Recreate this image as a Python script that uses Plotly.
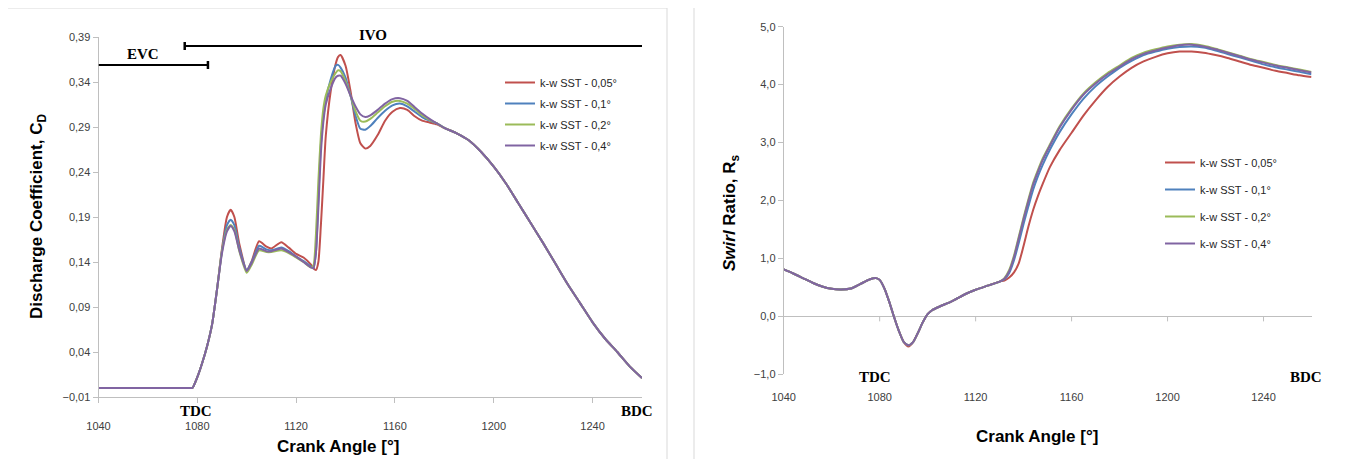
import plotly.graph_objects as go

# ---------------- data ----------------
SERIES_NAMES = ["k-w SST - 0,05°", "k-w SST - 0,1°", "k-w SST - 0,2°", "k-w SST - 0,4°"]
COLORS = ["#C0504D", "#4F81BD", "#9BBB59", "#8064A2"]
X_TICKS = [1040, 1080, 1120, 1160, 1200, 1240]

# Discharge coefficient (left chart)
CD_ANGLE = [1040, 1060, 1077, 1078, 1080, 1082, 1084, 1086, 1088, 1090, 1092, 1093.5,
            1095, 1097, 1100, 1102, 1105, 1108, 1110, 1114, 1117, 1120,
            1123, 1126, 1127, 1128, 1129, 1130, 1131, 1132, 1134, 1136,
            1137, 1138, 1140, 1142, 1144, 1146, 1148, 1150, 1153, 1156,
            1159, 1162, 1165, 1168, 1171, 1174, 1177, 1180, 1185, 1190,
            1195, 1200, 1205, 1210, 1215, 1220, 1225, 1230, 1235, 1240,
            1245, 1250, 1255, 1260]
CD_HEAD = [0.0, 0.0, 0.0, 0.0, 0.012, 0.028, 0.047, 0.071, 0.110]
CD_TAIL = [0.289, 0.283, 0.275, 0.262, 0.246, 0.227, 0.205, 0.183, 0.161, 0.138,
           0.115, 0.094, 0.073, 0.055, 0.040, 0.024, 0.011]
CD_005 = CD_HEAD + [0.155, 0.190, 0.198, 0.190, 0.160, 0.131, 0.141, 0.163, 0.157, 0.155,
                    0.162, 0.156, 0.149, 0.145, 0.137, 0.133, 0.131, 0.140, 0.180, 0.230,
                    0.280, 0.330, 0.360, 0.368, 0.370, 0.358, 0.330, 0.295, 0.272, 0.266,
                    0.269, 0.281, 0.297, 0.307, 0.311, 0.309, 0.302, 0.297, 0.295, 0.293] + CD_TAIL
CD_01 = CD_HEAD + [0.153, 0.181, 0.187, 0.181, 0.156, 0.131, 0.140, 0.158, 0.154, 0.153,
                   0.156, 0.152, 0.146, 0.141, 0.135, 0.133, 0.150, 0.210, 0.270, 0.300,
                   0.320, 0.343, 0.358, 0.359, 0.356, 0.345, 0.325, 0.303, 0.288, 0.287,
                   0.291, 0.300, 0.308, 0.314, 0.316, 0.313, 0.307, 0.301, 0.297, 0.294] + CD_TAIL
CD_02 = CD_HEAD + [0.152, 0.176, 0.181, 0.176, 0.152, 0.128, 0.137, 0.153, 0.151, 0.151,
                   0.153, 0.150, 0.145, 0.140, 0.134, 0.136, 0.170, 0.230, 0.280, 0.310,
                   0.325, 0.340, 0.350, 0.353, 0.352, 0.341, 0.325, 0.308, 0.297, 0.296,
                   0.299, 0.306, 0.313, 0.318, 0.319, 0.316, 0.310, 0.303, 0.298, 0.294] + CD_TAIL
CD_04 = CD_HEAD + [0.150, 0.174, 0.180, 0.174, 0.153, 0.130, 0.139, 0.155, 0.152, 0.152,
                   0.155, 0.151, 0.146, 0.140, 0.134, 0.133, 0.150, 0.200, 0.260, 0.295,
                   0.315, 0.333, 0.345, 0.347, 0.347, 0.338, 0.325, 0.313, 0.304, 0.301,
                   0.303, 0.309, 0.316, 0.321, 0.322, 0.319, 0.312, 0.305, 0.299, 0.294] + CD_TAIL

# Swirl ratio (right chart)
RS_ANGLE = [1040, 1044, 1048, 1052, 1056, 1060, 1064, 1068, 1072, 1076,
            1078.5, 1080, 1082, 1084, 1086, 1088, 1090, 1092, 1094, 1096,
            1098, 1100, 1102, 1105, 1110, 1116, 1120, 1125, 1130,
            1132, 1134, 1136, 1138, 1140, 1142, 1144, 1146, 1148, 1151,
            1155, 1160, 1165, 1170, 1175, 1180, 1185, 1190, 1195, 1200,
            1205, 1210, 1215, 1220, 1225, 1230, 1235, 1240, 1245, 1250,
            1255, 1260]
RS_HEAD = [0.81, 0.74, 0.66, 0.58, 0.515, 0.475, 0.465, 0.48, 0.56, 0.64,
           0.66, 0.63, 0.48, 0.25, -0.01, -0.25, -0.44]
RS_MID = [-0.44, -0.28, -0.10, 0.04, 0.11, 0.17, 0.26, 0.39, 0.46, 0.53, 0.60]
RS_005 = RS_HEAD + [-0.52] + RS_MID + [0.62, 0.67, 0.76, 0.92, 1.22, 1.55, 1.84, 2.08, 2.29, 2.58,
                                       2.87, 3.17, 3.47, 3.73, 3.96, 4.14, 4.29, 4.40, 4.48, 4.54,
                                       4.57, 4.57, 4.55, 4.51, 4.46, 4.40, 4.34, 4.29, 4.24, 4.20,
                                       4.16, 4.13]
RS_01 = RS_HEAD + [-0.50] + RS_MID + [0.64, 0.75, 0.97, 1.27, 1.60, 1.90, 2.19, 2.42, 2.62, 2.88,
                                      3.18, 3.49, 3.76, 3.97, 4.14, 4.29, 4.41, 4.51, 4.57, 4.62,
                                      4.65, 4.66, 4.64, 4.59, 4.53, 4.47, 4.41, 4.35, 4.30, 4.26,
                                      4.22, 4.18]
RS_02 = RS_HEAD + [-0.50] + RS_MID + [0.66, 0.80, 1.05, 1.38, 1.71, 2.02, 2.31, 2.53, 2.73, 2.97,
                                      3.28, 3.59, 3.85, 4.04, 4.20, 4.33, 4.46, 4.55, 4.61, 4.66,
                                      4.69, 4.70, 4.67, 4.62, 4.56, 4.50, 4.44, 4.39, 4.34, 4.30,
                                      4.26, 4.22]
RS_04 = RS_HEAD + [-0.50] + RS_MID + [0.65, 0.78, 1.02, 1.35, 1.68, 1.99, 2.28, 2.50, 2.70, 2.95,
                                      3.26, 3.57, 3.83, 4.02, 4.18, 4.31, 4.44, 4.53, 4.59, 4.64,
                                      4.68, 4.69, 4.66, 4.61, 4.55, 4.49, 4.43, 4.38, 4.33, 4.29,
                                      4.25, 4.21]

# valve event markers (crank angle and C_D level)
EVC_END, EVC_LEVEL = 1084.3, 0.359
IVO_START, IVO_LEVEL = 1074.9, 0.380

CD_SERIES = [CD_005, CD_01, CD_02, CD_04]
RS_SERIES = [RS_005, RS_01, RS_02, RS_04]

# ---------------- figure ----------------
W, H = 1349, 459
OFF = 8  # page body margin


def px(x):
    return (x - OFF) / W


def py(y):
    return 1 - (y - OFF) / H


TICK_FONT = dict(family="Liberation Sans, Arial, sans-serif", size=11, color="#404040")
AX_COLOR = "#BFBFBF"
SERIF = dict(family="Liberation Serif, Times New Roman, serif", size=15, color="black")
TITLE_FONT = dict(family="Liberation Sans, Arial, sans-serif", size=17, color="black")
LEG_FONT = dict(family="Liberation Sans, Arial, sans-serif", size=11, color="#262626")

fig = go.Figure()
for name, color, ys in zip(SERIES_NAMES, COLORS, CD_SERIES):
    fig.add_trace(go.Scatter(x=CD_ANGLE, y=ys, name=name, mode="lines",
                             line=dict(color=color, width=2, shape="spline", smoothing=0.6),
                             xaxis="x", yaxis="y", legend="legend", legendgroup="L" + name))
for name, color, ys in zip(SERIES_NAMES, COLORS, RS_SERIES):
    fig.add_trace(go.Scatter(x=RS_ANGLE, y=ys, name=name, mode="lines",
                             line=dict(color=color, width=2, shape="spline", smoothing=0.6),
                             xaxis="x2", yaxis="y2", legend="legend2", legendgroup="R" + name))

common_x = dict(range=[1040, 1260], tickvals=X_TICKS, showgrid=False, zeroline=False,
                tickfont=TICK_FONT, fixedrange=True, automargin=False)

fig.update_layout(
    width=W, height=H, margin=dict(l=0, r=0, t=0, b=0, pad=0, autoexpand=False),
    paper_bgcolor="white", plot_bgcolor="white", separators=", ",
    xaxis=dict(domain=[px(98.5), px(642)], anchor="y", showline=True, linecolor=AX_COLOR,
               ticks="outside", ticklen=5, tickcolor=AX_COLOR, ticklabelstandoff=14, **common_x),
    yaxis=dict(domain=[py(397), py(37)], anchor="x", range=[-0.01, 0.39],
               tick0=-0.01, dtick=0.05, tickformat=".2f", showline=True, linecolor=AX_COLOR,
               ticks="outside", ticklen=5, tickcolor=AX_COLOR, showgrid=False, zeroline=False,
               tickfont=TICK_FONT, automargin=False, fixedrange=True),
    xaxis2=dict(domain=[px(783.7), px(1311.5)], anchor="y2", showline=False, ticks="",
                ticklabelstandoff=15, **common_x),
    yaxis2=dict(domain=[py(374.3), py(26.7)], anchor="x2", range=[-1, 5], dtick=1,
                tickformat=".1f", showline=True, linecolor=AX_COLOR, ticks="outside",
                ticklen=5, tickcolor=AX_COLOR, showgrid=False, zeroline=True,
                zerolinecolor=AX_COLOR, zerolinewidth=1, tickfont=TICK_FONT,
                automargin=False, fixedrange=True),
    legend=dict(x=px(500), y=py(68), xanchor="left", yanchor="top", font=LEG_FONT,
                bgcolor="rgba(0,0,0,0)", tracegroupgap=2, itemwidth=30),
    legend2=dict(x=px(1160), y=py(148), xanchor="left", yanchor="top", font=LEG_FONT,
                 bgcolor="rgba(0,0,0,0)", tracegroupgap=8, itemwidth=30),
)

shapes = []
# panel borders
shapes.append(dict(type="rect", xref="paper", yref="paper", x0=px(6), x1=px(667),
                   y0=-0.2, y1=py(8), line=dict(color="#D9D9D9", width=1)))
shapes.append(dict(type="rect", xref="paper", yref="paper", x0=px(694), x1=px(1348),
                   y0=-0.2, y1=py(7), line=dict(color="#D9D9D9", width=1)))
# EVC / IVO bars
shapes.append(dict(type="line", xref="x", yref="y", x0=1040, x1=EVC_END, y0=EVC_LEVEL, y1=EVC_LEVEL,
                   line=dict(color="black", width=2)))
shapes.append(dict(type="line", xref="x", yref="y", ysizemode="pixel", yanchor=EVC_LEVEL,
                   x0=EVC_END, x1=EVC_END, y0=-4, y1=4, line=dict(color="black", width=2.5)))
shapes.append(dict(type="line", xref="x", yref="y", x0=IVO_START, x1=1260, y0=IVO_LEVEL, y1=IVO_LEVEL,
                   line=dict(color="black", width=2)))
shapes.append(dict(type="line", xref="x", yref="y", ysizemode="pixel", yanchor=IVO_LEVEL,
                   x0=IVO_START, x1=IVO_START, y0=-4, y1=4, line=dict(color="black", width=2.5)))
# tick marks on the zero line of the right chart
for t in X_TICKS[1:]:
    shapes.append(dict(type="line", xref="x2", yref="y2", ysizemode="pixel", yanchor=0,
                       x0=t, x1=t, y0=0, y1=-5, line=dict(color=AX_COLOR, width=1)))
fig.update_layout(shapes=shapes)

ann = []


def label(text, x, y, font, angle=0):
    ann.append(dict(text=text, xref="paper", yref="paper", x=px(x), y=py(y),
                    xanchor="center", yanchor="middle", showarrow=False, font=font,
                    textangle=angle))


label("<b>Discharge Coefficient, C<sub>D</sub></b>", 38, 216, TITLE_FONT, -90)
label("<b>Crank Angle [°]</b>", 338, 446, TITLE_FONT)
label("<b><i>Swirl</i> Ratio, R<sub>s</sub></b>", 731, 213, TITLE_FONT, -90)
label("<b>Crank Angle [°]</b>", 1037, 436, TITLE_FONT)
label("<b>TDC</b>", 196, 411, SERIF)
label("<b>BDC</b>", 637, 411, SERIF)
label("<b>TDC</b>", 875, 377, SERIF)
label("<b>BDC</b>", 1306, 377, SERIF)
label("<b>EVC</b>", 143, 54, SERIF)
label("<b>IVO</b>", 373, 35, SERIF)
fig.update_layout(annotations=ann)

fig.write_html("out.html")
